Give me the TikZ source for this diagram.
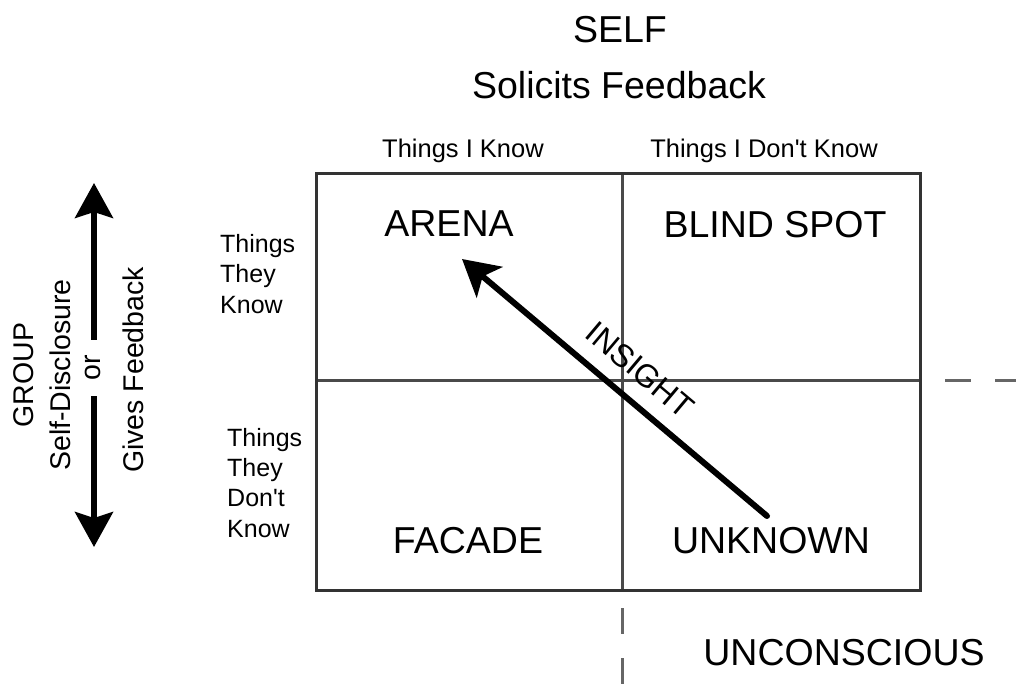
\documentclass[tikz,border=0pt]{standalone}
\usepackage{fontspec}
\setmainfont{Liberation Sans}[Ligatures=TeXOff]
\usetikzlibrary{arrows.meta}
\definecolor{bordercol}{HTML}{333333}
\definecolor{gridcol}{HTML}{4A4A4A}
\definecolor{dashcol}{HTML}{666666}
\tikzset{
  border/.style={draw=bordercol, line width=3pt},
  gridline/.style={draw=gridcol, line width=3pt},
  dashline/.style={draw=dashcol, line width=3pt, dash pattern=on 26pt off 24pt},
  biglabel/.style={font=\fontsize{37.5}{45}\selectfont, inner sep=0pt, anchor=base},
  titlelabel/.style={font=\fontsize{37.5}{45}\selectfont, inner sep=0pt, anchor=base},
  colhead/.style={font=\fontsize{25.5}{30}\selectfont, inner sep=0pt, anchor=base},
  rowhead/.style={font=\fontsize{25}{30.3}\selectfont, inner sep=0pt, align=left, anchor=base west},
  sidelabel/.style={font=\fontsize{28.5}{34}\selectfont, inner sep=0pt, anchor=base, rotate=90},
  orlabel/.style={font=\fontsize{28.5}{34}\selectfont, fill=white, inner xsep=15pt, inner ysep=3pt, rotate=90},
  grouparrow/.style={line width=5.5pt, {Stealth[length=35pt, width=38pt, inset=6pt]}-{Stealth[length=35pt, width=38pt, inset=6pt]}},
  insarrow/.style={line width=6pt, line cap=round, -{Stealth[length=36pt, width=40pt, inset=9pt]}},
  inslabel/.style={font=\fontsize{32}{38}\selectfont, inner sep=0pt},
}
\begin{document}
\begin{tikzpicture}[x=1pt,y=-1pt]
\fill[white] (0,0) rectangle (1016,685);
\useasboundingbox (0,0) rectangle (1016,685);
% grid coordinates
\coordinate (tl) at (316,173);
\coordinate (br) at (920,590);
\coordinate (tm) at (622,173);
\coordinate (bm) at (622,590);
\coordinate (ml) at (316,380);
\coordinate (mr) at (920,380);
\draw[gridline] (tm) -- (bm);
\draw[gridline] (ml) -- (mr);
\draw[border] (tl) rectangle (br);
% dashed extensions
\coordinate (dr1) at (945,380);
\coordinate (dr2) at (1016,380);
\coordinate (dv1) at (622,608);
\coordinate (dv2) at (622,685);
\draw[dashline] (dr1) -- (dr2);
\draw[dashline] (dv1) -- (dv2);
% titles
\node[titlelabel] (self) at (620,42) {SELF};
\node[titlelabel] (solicits) at (619,98) {Solicits Feedback};
\node[colhead] (tik) at (463,157) {Things I Know};
\node[colhead] (tidk) at (764,157) {Things I Don't Know};
% row heads (base anchor = last line)
\node[rowhead] (ttk) at (220,313) {Things\\They\\Know};
\node[rowhead] (ttdk) at (227,537) {Things\\They\\Don't\\Know};
% quadrant labels
\node[biglabel] (arena) at (449,236) {ARENA};
\node[biglabel] (blind) at (775,237) {BLIND SPOT};
\node[biglabel] (facade) at (468,553) {FACADE};
\node[biglabel] (unknown) at (771,553) {UNKNOWN};
\node[biglabel] (uncon) at (844,665) {UNCONSCIOUS};
% insight arrow
\coordinate (instail) at (767,516);
\coordinate (instip) at (462,259);
\draw[insarrow] (instail) -- (instip);
\node[inslabel, rotate=-40.1] (insight) at (640,370) {INSIGHT};
% group arrow
\coordinate (gtop) at (94,183);
\coordinate (gbot) at (94,547);
\draw[grouparrow] (gtop) -- (gbot);
\node[orlabel] (or) at (93,368) {or};
\node[sidelabel] (group) at (33,375) {GROUP};
\node[sidelabel] (selfdis) at (70,375) {Self-Disclosure};
\node[sidelabel] (gives) at (143,370) {Gives Feedback};
\end{tikzpicture}
\end{document}
